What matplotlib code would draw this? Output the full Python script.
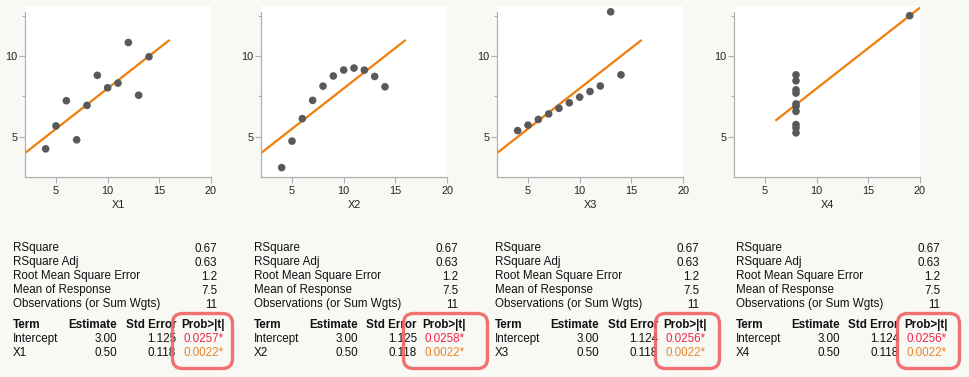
import numpy as np
import matplotlib
matplotlib.use("Agg")
import matplotlib.pyplot as plt
from matplotlib.patches import FancyBboxPatch
from matplotlib.transforms import IdentityTransform

# ---------------- data (Anscombe's quartet) ----------------
x1 = [10, 8, 13, 9, 11, 14, 6, 4, 12, 7, 5]
x2 = [10, 8, 13, 9, 11, 14, 6, 4, 12, 7, 5]
x3 = [10, 8, 13, 9, 11, 14, 6, 4, 12, 7, 5]
x4 = [8, 8, 8, 8, 8, 8, 8, 19, 8, 8, 8]
y1 = [8.04, 6.95, 7.58, 8.81, 8.33, 9.96, 7.24, 4.26, 10.84, 4.82, 5.68]
y2 = [9.14, 8.14, 8.74, 8.77, 9.26, 8.10, 6.13, 3.10, 9.13, 7.26, 4.74]
y3 = [7.46, 6.77, 12.74, 7.11, 7.81, 8.84, 6.08, 5.39, 8.15, 6.42, 5.73]
y4 = [6.58, 5.76, 7.71, 8.84, 8.47, 7.04, 5.25, 12.50, 5.56, 7.91, 6.89]
xnames = ["X1", "X2", "X3", "X4"]

summary_labels = ["RSquare", "RSquare Adj", "Root Mean Square Error",
                  "Mean of Response", "Observations (or Sum Wgts)"]
summary_values = ["0.67", "0.63", "1.2", "7.5", "11"]
intercept_est = [3.00, 3.00, 3.00, 3.00]
slope_est = [0.50, 0.50, 0.50, 0.50]
intercept_se = ["1.125", "1.125", "1.124", "1.124"]
slope_se = ["0.118", "0.118", "0.118", "0.118"]
intercept_p = ["0.0257*", "0.0258*", "0.0256*", "0.0256*"]
slope_p = ["0.0022*", "0.0022*", "0.0022*", "0.0022*"]

xs = [x1, x2, x3, x4]
ys = [y1, y2, y3, y4]

# ---------------- styling ----------------
W, H = 969, 377
DPI = 100
BG = "#f8f8f5"
FONT = ["Liberation Sans", "DejaVu Sans"]
plt.rcParams["font.family"] = FONT
FS = 8.4
TFS = 7.8
RED = "#ef2648"
ORANGE = "#e8862a"
LINE = "#f07d0a"
BOX = "#ef6262"

fig = plt.figure(figsize=(W / DPI, H / DPI), dpi=DPI, facecolor=BG)


def fx(px):
    return px / W


def fy(py):
    return 1 - py / H


ax_left = [25, 261, 497, 734]
ax_w = 186
ax_top, ax_bot = 6, 177.3

for k in range(4):
    ax = fig.add_axes([fx(ax_left[k]), fy(ax_bot), fx(ax_w), (ax_bot - ax_top) / H])
    ax.set_facecolor("white")
    ax.set_xlim(2, 20)
    ax.set_ylim(2.5, 13.1)
    for s in ["top", "right"]:
        ax.spines[s].set_visible(False)
    for s in ["left", "bottom"]:
        ax.spines[s].set_color("#b0b0b0")
        ax.spines[s].set_linewidth(0.9)
    ax.spines["left"].set_bounds(2.5, 12.7)
    ax.set_xticks([5, 10, 15, 20])
    ax.set_yticks([5, 10])
    ax.set_yticks([7.5, 12.5], minor=True)
    ax.tick_params(axis="both", which="major", length=4, width=0.8, color="#b0b0b0",
                   labelsize=TFS, labelcolor="#222222", pad=1.5)
    ax.tick_params(axis="y", which="minor", length=2.5, width=0.8, color="#b0b0b0")
    ax.tick_params(axis="x", pad=2.5)
    ax.set_xlabel(xnames[k], fontsize=TFS, color="#222222", labelpad=2.5)

    xv = np.array(xs[k], dtype=float)
    xl = np.array([max(xv.min() - 2, 2), min(xv.max() + 2, 20)])
    ax.plot(xl, intercept_est[k] + slope_est[k] * xl, color=LINE, lw=1.6,
            solid_capstyle="butt", zorder=2, clip_on=True)
    ax.scatter(xs[k], ys[k], s=30, color="#595959", edgecolors="none", zorder=3,
               clip_on=False)

    # ---------------- tables ----------------
    T = 13 + 241 * k
    base = 251.5
    for i, (lab, val) in enumerate(zip(summary_labels, summary_values)):
        yb = base + 14 * i
        fig.text(fx(T), fy(yb), lab, fontsize=FS, color="#111111", va="baseline", ha="left")
        fig.text(fx(T + 204), fy(yb), val, fontsize=FS, color="#111111", va="baseline", ha="right")

    hy = 328.2
    fig.text(fx(T), fy(hy), "Term", fontsize=FS, weight="bold", va="baseline", ha="left", color="#111111")
    fig.text(fx(T + 104), fy(hy), "Estimate", fontsize=FS, weight="bold", va="baseline", ha="right", color="#111111")
    fig.text(fx(T + 163), fy(hy), "Std Error", fontsize=FS, weight="bold", va="baseline", ha="right", color="#111111")
    fig.text(fx(T + 212), fy(hy), "Prob>|t|", fontsize=FS, weight="bold", va="baseline", ha="right", color="#111111")

    rows = [("Intercept", f"{intercept_est[k]:.2f}", intercept_se[k], intercept_p[k], RED),
            (xnames[k], f"{slope_est[k]:.2f}", slope_se[k], slope_p[k], ORANGE)]
    for j, (term, est, se, p, pc) in enumerate(rows):
        yb = 342.3 + 14 * j
        fig.text(fx(T), fy(yb), term, fontsize=FS, va="baseline", ha="left", color="#111111")
        fig.text(fx(T + 104), fy(yb), est, fontsize=FS, va="baseline", ha="right", color="#111111")
        fig.text(fx(T + 163), fy(yb), se, fontsize=FS, va="baseline", ha="right", color="#111111")
        fig.text(fx(T + 211), fy(yb), p, fontsize=FS, va="baseline", ha="right", color=pc)

# ---------------- highlight boxes ----------------
box_x = [(171, 234), (402, 489), (654, 721), (896, 961)]
by0, by1 = 312, 370
for (a, b) in box_x:
    patch = FancyBboxPatch((a + 1.5, H - by1 + 1.5), (b - a) - 3, (by1 - by0) - 3,
                           boxstyle="round,pad=0,rounding_size=10",
                           transform=IdentityTransform(), fill=False,
                           edgecolor=BOX, linewidth=2.4, alpha=0.9, zorder=10)
    fig.patches.append(patch)

fig.savefig("out.png", dpi=DPI, facecolor=BG)
